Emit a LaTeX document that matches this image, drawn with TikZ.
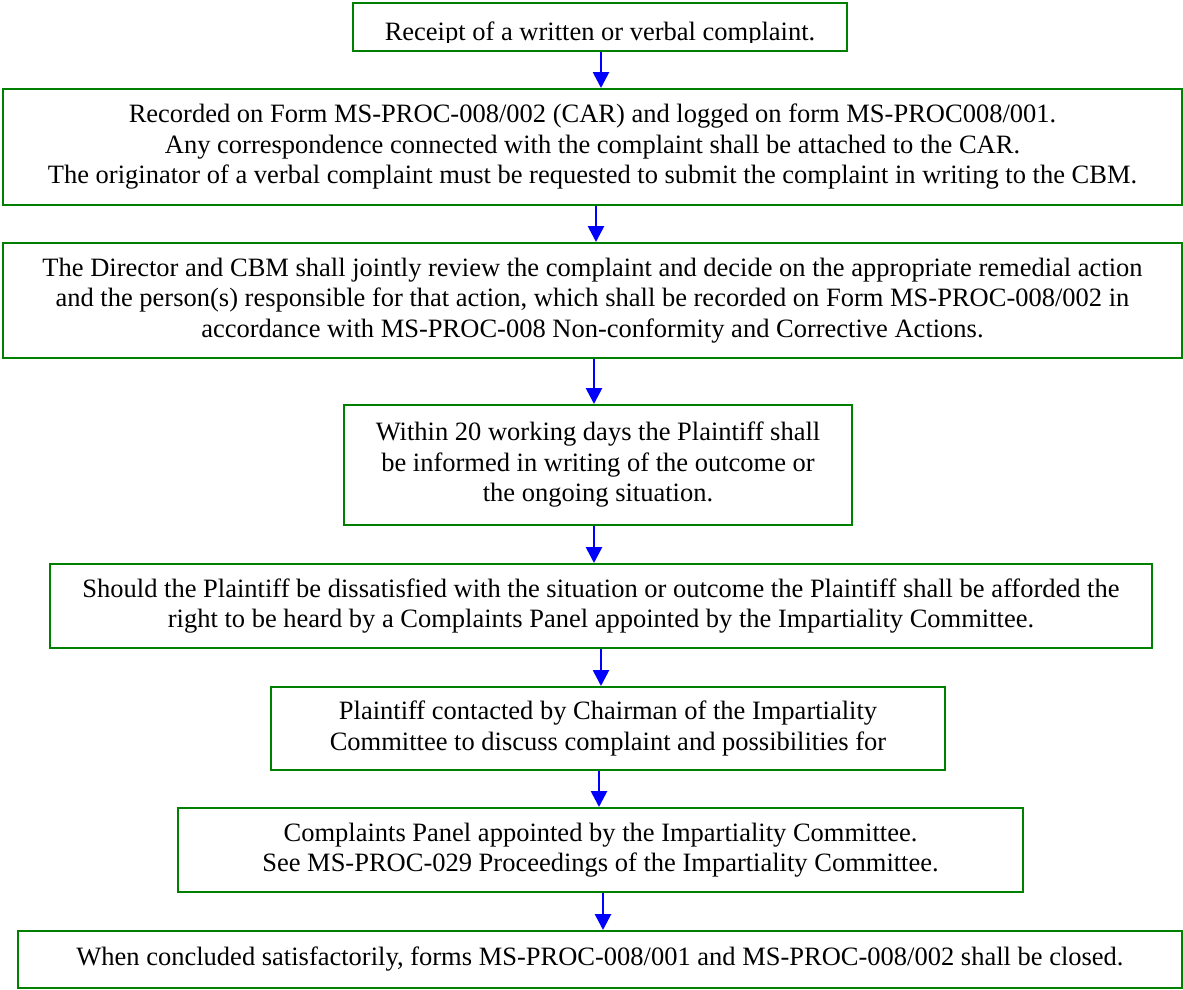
\documentclass[tikz,border=0pt]{standalone}
\usepackage{fontspec}
\setmainfont{Liberation Serif}
\usetikzlibrary{arrows.meta}
\definecolor{boxgreen}{RGB}{0,128,0}
\definecolor{arrblue}{RGB}{0,0,255}
\begin{document}
\begin{tikzpicture}[x=1pt,y=-1pt,
  stepbox/.style={draw=boxgreen, line width=2pt, inner sep=0pt, align=center,
    font=\fontsize{26.5}{30.5}\selectfont},
  txt/.style={inner sep=0pt, font=\fontsize{26.5}{30.5}\selectfont},
  arr/.style={draw=arrblue, line width=2.7pt, -{Triangle[length=16pt,width=16pt]}}]
\useasboundingbox (0,0) rectangle (1183,989);

\node[stepbox, minimum width=494pt, minimum height=48pt] (b1) at (600,27) {};
\begin{scope}
  \clip (b1.north west) rectangle ([yshift=10pt]b1.south east);
  \node[txt, anchor=base] (t1) at (600,40) {Receipt of a written or verbal complaint.};
\end{scope}

\node[stepbox, minimum width=1179pt, minimum height=116pt] (b2) at (592.5,147)
  {Recorded on Form MS-PROC-008/002 (CAR) and logged on form MS-PROC008/001.\\
   Any correspondence connected with the complaint shall be attached to the CAR.\\
   The originator of a verbal complaint must be requested to submit the complaint in writing to the CBM.};

\node[stepbox, minimum width=1179pt, minimum height=115pt] (b3) at (592.5,300.5)
  {The Director and CBM shall jointly review the complaint and decide on the appropriate remedial action\\
   and the person(s) responsible for that action, which shall be recorded on Form MS-PROC-008/002 in\\
   accordance with MS-PROC-008 Non-conformity and Corrective Actions.};

\node[stepbox, minimum width=508pt, minimum height=120pt] (b4) at (598,465)
  {Within 20 working days the Plaintiff shall\\
   be informed in writing of the outcome or\\
   the ongoing situation.};

\node[stepbox, minimum width=1102pt, minimum height=84pt] (b5) at (601,606)
  {Should the Plaintiff be dissatisfied with the situation or outcome the Plaintiff shall be afforded the\\
   right to be heard by a Complaints Panel appointed by the Impartiality Committee.};

\node[stepbox, minimum width=674pt, minimum height=83pt] (b6) at (608,728.5)
  {Plaintiff contacted by Chairman of the Impartiality\\
   Committee to discuss complaint and possibilities for};

\node[stepbox, minimum width=845pt, minimum height=84pt] (b7) at (600.5,850)
  {Complaints Panel appointed by the Impartiality Committee.\\
   See MS-PROC-029 Proceedings of the Impartiality Committee.};

\node[stepbox, minimum width=1164pt, minimum height=57pt] (b8) at (600,959.5)
  {When concluded satisfactorily, forms MS-PROC-008/001 and MS-PROC-008/002 shall be closed.};

\draw[arr] ([xshift=1pt]b1.south) -- ([xshift=1pt]b1.south |- b2.north);
\draw[arr] ([xshift=3.5pt]b2.south) -- ([xshift=3.5pt]b2.south |- b3.north);
\draw[arr] ([xshift=1.5pt]b3.south) -- ([xshift=1.5pt]b3.south |- b4.north);
\draw[arr] ([xshift=-4pt]b4.south) -- ([xshift=-4pt]b4.south |- b5.north);
\draw[arr] (b5.south) -- (b5.south |- b6.north);
\draw[arr] ([xshift=-9pt]b6.south) -- ([xshift=-9pt]b6.south |- b7.north);
\draw[arr] ([xshift=2.5pt]b7.south) -- ([xshift=2.5pt]b7.south |- b8.north);
\end{tikzpicture}
\end{document}
